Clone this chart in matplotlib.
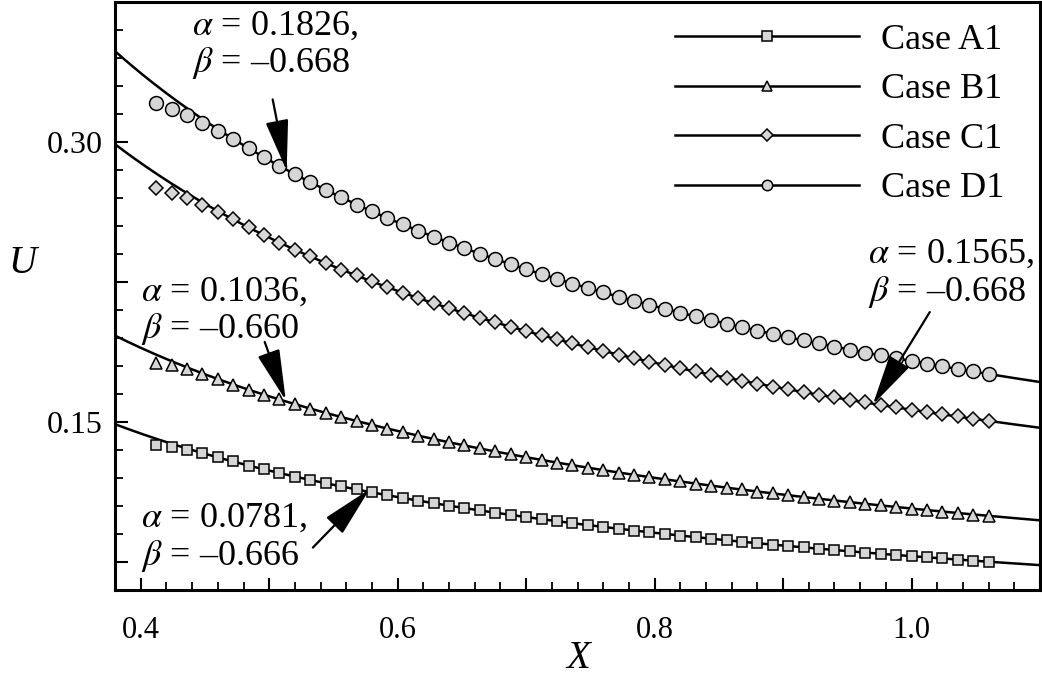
import numpy as np
import matplotlib
matplotlib.use("Agg")
import matplotlib.pyplot as plt
from matplotlib.ticker import MultipleLocator
from matplotlib.lines import Line2D

plt.rcParams['font.family'] = ['Liberation Serif', 'DejaVu Serif']
plt.rcParams['mathtext.fontset'] = 'stix'

# ---------------- data ----------------
X_data = [0.412, 0.424, 0.436, 0.448, 0.460, 0.472, 0.484, 0.496, 0.508, 0.520,
          0.532, 0.544, 0.556, 0.568, 0.580, 0.592, 0.604, 0.616, 0.628, 0.640,
          0.652, 0.664, 0.676, 0.688, 0.700, 0.712, 0.724, 0.736, 0.748, 0.760,
          0.772, 0.784, 0.796, 0.808, 0.820, 0.832, 0.844, 0.856, 0.868, 0.880,
          0.892, 0.904, 0.916, 0.928, 0.940, 0.952, 0.964, 0.976, 0.988, 1.000,
          1.012, 1.024, 1.036, 1.048, 1.060]

U_A1 = [0.1375, 0.1365, 0.1351, 0.1331, 0.1310, 0.1288, 0.1266, 0.1246, 0.1226, 0.1207,
        0.1189, 0.1172, 0.1155, 0.1138, 0.1123, 0.1107, 0.1093, 0.1078, 0.1065, 0.1051,
        0.1038, 0.1026, 0.1014, 0.1002, 0.0990, 0.0979, 0.0968, 0.0958, 0.0948, 0.0938,
        0.0928, 0.0918, 0.0909, 0.0900, 0.0891, 0.0883, 0.0874, 0.0866, 0.0858, 0.0850,
        0.0843, 0.0835, 0.0828, 0.0821, 0.0814, 0.0807, 0.0800, 0.0794, 0.0787, 0.0781,
        0.0775, 0.0769, 0.0763, 0.0757, 0.0751]

U_B1 = [0.1818, 0.1803, 0.1782, 0.1756, 0.1730, 0.1700, 0.1673, 0.1646, 0.1620, 0.1595,
        0.1571, 0.1548, 0.1526, 0.1505, 0.1484, 0.1464, 0.1445, 0.1426, 0.1408, 0.1391,
        0.1374, 0.1358, 0.1342, 0.1326, 0.1311, 0.1296, 0.1282, 0.1268, 0.1255, 0.1242,
        0.1229, 0.1217, 0.1204, 0.1193, 0.1181, 0.1170, 0.1159, 0.1148, 0.1138, 0.1127,
        0.1117, 0.1107, 0.1098, 0.1088, 0.1079, 0.1070, 0.1061, 0.1053, 0.1044, 0.1036,
        0.1028, 0.1020, 0.1012, 0.1004, 0.0997]

U_C1 = [0.2750, 0.2726, 0.2697, 0.2662, 0.2624, 0.2584, 0.2541, 0.2500, 0.2460, 0.2422,
        0.2386, 0.2350, 0.2316, 0.2284, 0.2252, 0.2221, 0.2192, 0.2163, 0.2135, 0.2109,
        0.2083, 0.2057, 0.2033, 0.2009, 0.1986, 0.1964, 0.1942, 0.1921, 0.1900, 0.1880,
        0.1860, 0.1841, 0.1823, 0.1805, 0.1787, 0.1770, 0.1753, 0.1736, 0.1720, 0.1705,
        0.1689, 0.1674, 0.1660, 0.1645, 0.1631, 0.1617, 0.1604, 0.1591, 0.1578, 0.1565,
        0.1553, 0.1540, 0.1529, 0.1517, 0.1505]

U_D1 = [0.3208, 0.3177, 0.3144, 0.3101, 0.3059, 0.3013, 0.2965, 0.2917, 0.2871, 0.2826,
        0.2784, 0.2742, 0.2703, 0.2664, 0.2627, 0.2592, 0.2557, 0.2524, 0.2492, 0.2460,
        0.2430, 0.2400, 0.2372, 0.2344, 0.2317, 0.2291, 0.2266, 0.2241, 0.2217, 0.2193,
        0.2171, 0.2148, 0.2127, 0.2106, 0.2085, 0.2065, 0.2045, 0.2026, 0.2007, 0.1989,
        0.1971, 0.1953, 0.1936, 0.1920, 0.1903, 0.1887, 0.1871, 0.1856, 0.1841, 0.1826,
        0.1812, 0.1797, 0.1783, 0.1770, 0.1756]

case_labels = ['Case A1', 'Case B1', 'Case C1', 'Case D1']
case_markers = ['s', '^', 'D', 'o']
marker_sizes = [6.5, 8.0, 7.5, 10.0]
legend_marker_sizes = [6.5, 7.0, 6.5, 7.5]
# fit parameters U = alpha * X**beta, as written in the chart annotations
fit_alpha = [0.0781, 0.1036, 0.1565, 0.1826]
fit_beta = [-0.666, -0.660, -0.668, -0.668]
alpha_text = ['0.0781', '0.1036', '0.1565', '0.1826']
beta_text = ['\u20130.666', '\u20130.660', '\u20130.668', '\u20130.668']

x_major = [0.4, 0.5, 0.6, 0.7, 0.8, 0.9, 1.0, 1.1]
x_labels = ['0.4', '', '0.6', '', '0.8', '', '1.0', '']
y_major = [0.075, 0.15, 0.225, 0.30]
y_labels = ['', '0.15', '', '0.30']

# ---------------- figure ----------------
fig = plt.figure(figsize=(10.42, 6.80), dpi=100)
ax = fig.add_axes([0.1104, 0.1324, 0.8877, 0.8651])

series = [U_A1, U_B1, U_C1, U_D1]
xl = np.linspace(0.38, 1.10, 300)
face = '#d6d6d6'
handles = []
for U, m, ms, lms, a, b, lab in zip(series, case_markers, marker_sizes, legend_marker_sizes,
                                     fit_alpha, fit_beta, case_labels):
    ax.plot(xl, a * xl ** b, color='black', lw=1.8, zorder=2)
    ax.plot(X_data, U, ls='none', marker=m, ms=ms, mfc=face, mec='black', mew=1.1, zorder=3)
    handles.append(Line2D([], [], color='black', lw=1.8, marker=m, ms=lms, mfc=face,
                          mec='black', mew=1.1, label=lab))

ax.set_xlim(0.38, 1.10)
ax.set_ylim(0.06, 0.375)

ax.set_xticks(x_major, labels=x_labels)
ax.set_yticks(y_major, labels=y_labels)
ax.xaxis.set_minor_locator(MultipleLocator(0.02))
ax.yaxis.set_minor_locator(MultipleLocator(0.015))
ax.tick_params(which='major', direction='in', length=9, width=1.5,
               top=False, right=False)
ax.tick_params(which='minor', direction='in', length=5.5, width=1.3, top=False, right=False)
ax.tick_params(axis='x', which='major', pad=19, labelsize=22)
ax.tick_params(axis='y', which='major', pad=9, labelsize=23)
for sp in ax.spines.values():
    sp.set_linewidth(2.2)

ax.set_xlabel('X', fontsize=28, fontstyle='italic', va='center')
ax.set_ylabel('U', fontsize=28, fontstyle='italic', rotation=0, va='center', ha='center')
ax.xaxis.set_label_coords(0.5005, -0.1164)
ax.yaxis.set_label_coords(-0.1005, 0.5555)

leg = ax.legend(handles=handles, loc='upper left', bbox_to_anchor=(0.6054, 0.963),
                frameon=False, fontsize=26, handlelength=5.1, handletextpad=0.6,
                labelspacing=0.45, borderpad=0, borderaxespad=0)

# annotations: (text x, text y (center), arrow tail, arrow tip)
ann_pos = [
    ((0.4005, 0.0880), (0.5340, 0.0827), (0.5782, 0.1140)),   # A1
    ((0.4005, 0.2091), (0.4965, 0.1928), (0.5129, 0.1615)),   # B1
    ((0.9660, 0.2293), (1.0142, 0.2088), (0.9698, 0.1592)),   # C1
    ((0.4396, 0.3517), (0.5027, 0.3227), (0.5136, 0.2845)),   # D1
]
for (tp, tail, tip), at, bt in zip(ann_pos, alpha_text, beta_text):
    ax.text(tp[0], tp[1], '$\\alpha$ = ' + at + ',\n$\\beta$ = ' + bt, fontsize=26,
            ha='left', va='center', linespacing=1.1, zorder=5)
    ax.annotate('', xy=tip, xytext=tail,
                arrowprops=dict(arrowstyle='-|>,head_length=1.6,head_width=0.36',
                                color='black', lw=1.6, shrinkA=0, shrinkB=0,
                                mutation_scale=20), zorder=6)

fig.savefig('out.png', dpi=100)
